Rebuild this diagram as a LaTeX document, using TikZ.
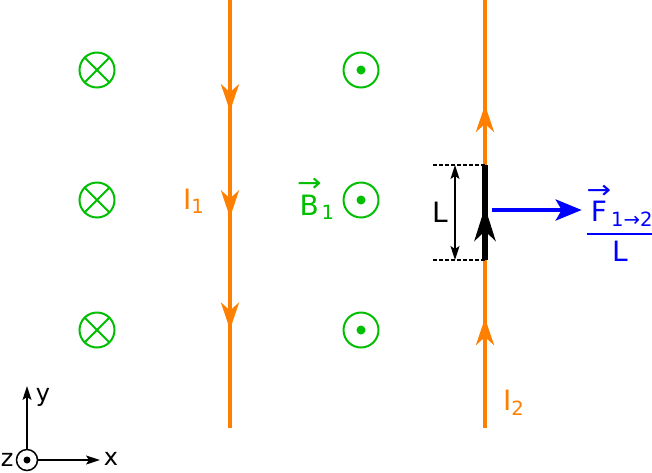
\documentclass[tikz,border=0pt]{standalone}
\usepackage{amsmath}
\usepackage{fontspec}
\setmainfont{DejaVu Sans}
\usetikzlibrary{arrows.meta, positioning, decorations.markings}
\definecolor{wireorange}{RGB}{255,128,0}
\definecolor{fieldgreen}{RGB}{0,190,0}
\definecolor{forceblue}{RGB}{0,0,255}
\newcommand{\vecsym}[1]{\ensuremath{\overset{\raisebox{-1.1ex}{\scalebox{1.05}[0.9]{→}}}{\text{#1}}}}
\begin{document}
\begin{tikzpicture}[x=0.5pt, y=-0.5pt, font=\fontsize{14}{16}\selectfont,
	wire/.style={wireorange, line width=2pt, postaction={decorate}},
	wtip/.tip={Stealth[length=13.5pt, width=9pt, inset=4pt]},
	small/.tip={Stealth[length=7pt, width=4.5pt, inset=1.5pt]},
	field/.style={circle, draw=fieldgreen, line width=1pt, minimum size=17.5pt, inner sep=0pt, outer sep=0pt},
	dot/.style={circle, fill=#1, minimum size=4.5pt, inner sep=0pt},
	force/.style={forceblue, line width=2pt, -{Stealth[length=13pt, width=10.5pt, inset=3pt]}},
	axlabel/.style={font=\fontsize{12}{14}\selectfont},
	every node/.style={inner sep=1pt}]

	\useasboundingbox (0,0) rectangle (652,472);

	% magnetic field of wire 1
	\foreach \y [count=\i] in {70,200,330} {
		\node [field] (X\i) at (97,\y) {};
		\draw [fieldgreen, line width=1pt] (X\i.45) -- (X\i.225) (X\i.135) -- (X\i.315);
		\node [field] (D\i) at (361,\y) {};
		\node [dot=fieldgreen] at (D\i) {};
	}

	% wire 1 (current downwards)
	\coordinate (W1a) at (230,0);
	\coordinate (W1b) at (230,428);
	\draw [wire, decoration={markings,
		mark=at position 0.26 with {\arrow[wireorange]{wtip}},
		mark=at position 0.508 with {\arrow[wireorange]{wtip}},
		mark=at position 0.77 with {\arrow[wireorange]{wtip}}}] (W1a) -- (W1b);

	% wire 2 (current upwards)
	\coordinate (W2a) at (485,428);
	\coordinate (W2b) at (485,0);
	\draw [wire, decoration={markings,
		mark=at position 0.257 with {\arrow[wireorange]{wtip}},
		mark=at position 0.755 with {\arrow[wireorange]{wtip}}}] (W2a) -- (W2b);

	% piece of length L
	\coordinate (Sb) at (485,260);
	\coordinate (St) at (485,165);
	\draw [black, line width=3pt, postaction={decorate}, decoration={markings,
		mark=at position 0.56 with {\arrow{Stealth[length=17pt, width=10.5pt, inset=5pt]}}}] (Sb) -- (St);
	\coordinate (Dt) at (433,165);
	\coordinate (Db) at (433,260);
	\draw [black, line width=0.6pt, dash pattern=on 2pt off 1pt] (Dt) -- (St) (Db) -- (Sb);
	\draw [black, line width=0.75pt, small-small] (455,165) -- (455,260);
	\node (L) at (440,212) {L};

	% labels
	\node [wireorange] (I1) at (194,201) {I\textsubscript{1}};
	\node [wireorange] (I2) at (514,403) {I\textsubscript{2}};
	\node [fieldgreen] (B1) [left=3pt of D2, yshift=2pt] {\vecsym{B}\textsubscript{1}};

	% force per length
	\node [forceblue] (F) at (620,220) {$\genfrac{}{}{1pt}{0}{\vecsym{F}\text{\textsubscript{1→2}}}{\text{L}}$};
	\coordinate (Fa) at (492,210);
	\draw [force] (Fa) -- (F.west |- Fa);

	% axes
	\node [circle, draw, line width=0.75pt, minimum size=10.5pt, inner sep=0pt] (O) at (27,460) {};
	\node [dot=black, minimum size=3.5pt] at (O) {};
	\coordinate (Oy) at (27,386);
	\coordinate (Ox) at (100,460);
	\draw [line width=0.75pt, -small] (O) -- (Oy);
	\draw [line width=0.75pt, -small] (O) -- (Ox);
	\node [axlabel] (z) [left=0pt of O] {z};
	\node [axlabel] (ylab) at (43,397) {y};
	\node [axlabel] (xlab) at (111,459) {x};

\end{tikzpicture}
\end{document}
